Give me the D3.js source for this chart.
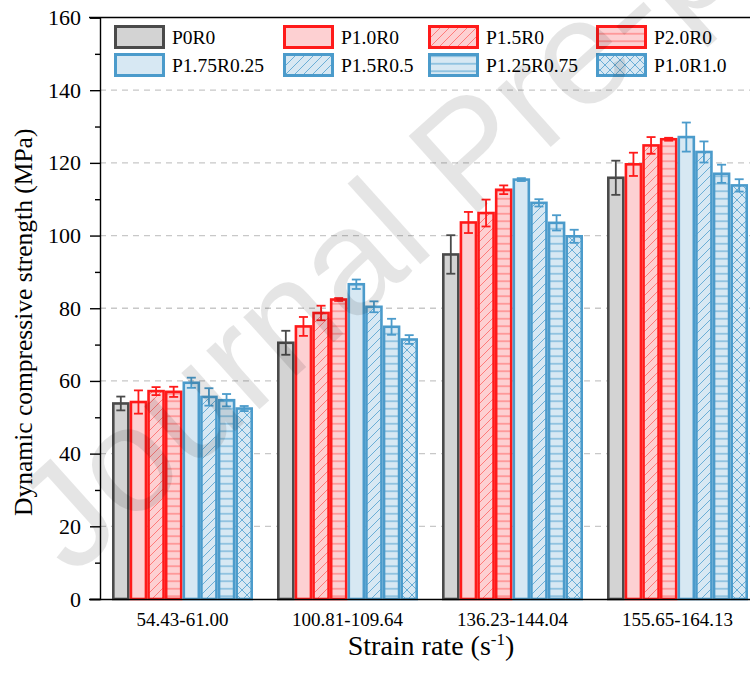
<!DOCTYPE html>
<html>
<head>
<meta charset="utf-8">
<script src="https://cdn.jsdelivr.net/npm/d3@7/dist/d3.min.js"></script>
<style>
  html, body { margin: 0; padding: 0; background: #fff; }
  svg { display: block; }
  svg text.serif { font-family: "Liberation Serif", "Times New Roman", serif !important; }
</style>
</head>
<body>
<svg id="chart" width="750" height="684"></svg>
<script>
// ---------------- DATA ----------------
const categories = ["54.43-61.00", "100.81-109.64", "136.23-144.04", "155.65-164.13"];
const seriesNames = ["P0R0", "P1.0R0", "P1.5R0", "P2.0R0", "P1.75R0.25", "P1.5R0.5", "P1.25R0.75", "P1.0R1.0"];

const meanP0R0      = [53.8, 70.5, 94.8, 115.9];
const meanP10R0     = [54.2, 75.0, 103.6, 119.6];
const meanP15R0     = [57.2, 78.7, 106.2, 124.8];
const meanP20R0     = [57.0, 82.4, 112.6, 126.5];
const meanP175R025  = [59.5, 86.6, 115.4, 127.1];
const meanP15R05    = [55.6, 80.4, 109.0, 123.0];
const meanP125R075  = [54.7, 74.9, 103.5, 117.0];
const meanP10R10    = [52.4, 71.4, 99.8, 113.8];

const errP0R0      = [1.9, 3.3, 5.3, 4.7];
const errP10R0     = [3.2, 2.6, 2.9, 3.2];
const errP15R0     = [1.1, 2.0, 3.7, 2.3];
const errP20R0     = [1.4, 0.4, 1.2, 0.4];
const errP175R025  = [1.4, 1.3, 0.4, 4.0];
const errP15R05    = [2.4, 1.5, 1.0, 2.9];
const errP125R075  = [1.7, 2.2, 2.1, 2.5];
const errP10R10    = [0.7, 1.2, 1.8, 1.7];

const yTicks = [0, 20, 40, 60, 80, 100, 120, 140, 160];

const means = [meanP0R0, meanP10R0, meanP15R0, meanP20R0, meanP175R025, meanP15R05, meanP125R075, meanP10R10];
const errs  = [errP0R0, errP10R0, errP15R0, errP20R0, errP175R025, errP15R05, errP125R075, errP10R10];

// ---------------- STYLE ----------------
const SERIF = '"Liberation Serif", "Times New Roman", serif';
const GRAY_S = "#4a4a4a", GRAY_F = "#d3d3d3";
const RED_S = "#ff1a1a", RED_F = "#fdd0d2", RED_H = "#ff7a7a";
const BLUE_S = "#4b9bcb", BLUE_F = "#d7e8f3", BLUE_H = "#6aaed6";
const styles = [
  {stroke: GRAY_S, fill: GRAY_F, pat: null},
  {stroke: RED_S, fill: RED_F, pat: null},
  {stroke: RED_S, fill: RED_F, pat: "diag", hc: RED_H},
  {stroke: RED_S, fill: RED_F, pat: "horiz", hc: RED_H},
  {stroke: BLUE_S, fill: BLUE_F, pat: null},
  {stroke: BLUE_S, fill: BLUE_F, pat: "diag", hc: BLUE_H},
  {stroke: BLUE_S, fill: BLUE_F, pat: "horiz", hc: BLUE_H},
  {stroke: BLUE_S, fill: BLUE_F, pat: "cross", hc: BLUE_H}
];

const svg = d3.select("#chart");
const defs = svg.append("defs");

styles.forEach((s, i) => {
  if (!s.pat) { s.paint = s.fill; return; }
  const id = "pat" + i;
  let size = s.pat === "horiz" ? 7.5 : (s.pat === "cross" ? 10 : 9);
  const p = defs.append("pattern").attr("id", id)
    .attr("patternUnits", "userSpaceOnUse")
    .attr("width", size).attr("height", size);
  p.append("rect").attr("width", size).attr("height", size).attr("fill", s.fill);
  if (s.pat === "diag") {
    p.append("path").attr("d", `M0,${size} L${size},0 M${-size/2},${size/2} L${size/2},${-size/2} M${size/2},${size*1.5} L${size*1.5},${size/2}`)
      .attr("stroke", s.hc).attr("stroke-width", 1);
  } else if (s.pat === "horiz") {
    p.append("path").attr("d", `M0,${size/2} L${size},${size/2}`)
      .attr("stroke", s.hc).attr("stroke-width", 1.2);
  } else if (s.pat === "cross") {
    p.append("path").attr("d", `M0,0 L${size},${size} M0,${size} L${size},0`)
      .attr("stroke", s.hc).attr("stroke-width", 1);
  }
  s.paint = `url(#${id})`;
});

// ---------------- SCALES ----------------
const plotLeft = 100, plotRight = 760, plotTop = 17.5, plotBottom = 599;
const x0 = d3.scaleBand().domain(categories).range([plotLeft, plotRight])
  .paddingInner(24 / 165).paddingOuter(12 / 165);
const x1 = d3.scaleBand().domain(seriesNames).range([0, x0.bandwidth()]).padding(0);
const y = d3.scaleLinear().domain([0, 160]).range([plotBottom, plotTop]);

// grid
svg.append("g").selectAll("line").data(yTicks.filter(t => t > 0 && t < 160)).join("line")
  .attr("x1", plotLeft).attr("x2", plotRight)
  .attr("y1", d => y(d)).attr("y2", d => y(d))
  .attr("stroke", "#c8c8c8").attr("stroke-width", 1.3)
  .attr("stroke-dasharray", "6,5");

// bars
const groups = svg.append("g").selectAll("g").data(categories).join("g")
  .attr("transform", c => `translate(${x0(c)},0)`);

groups.each(function(c, ci) {
  const g = d3.select(this);
  seriesNames.forEach((s, si) => {
    const st = styles[si];
    const v = means[si][ci], e = errs[si][ci];
    const bx = x1(s), bw = x1.bandwidth();
    g.append("rect")
      .attr("x", bx + 1.3).attr("y", y(v))
      .attr("width", bw - 2.6).attr("height", y(0) - y(v))
      .attr("fill", st.paint).attr("stroke", st.stroke).attr("stroke-width", 2.6);
    const cx = bx + bw / 2;
    g.append("line").attr("x1", cx).attr("x2", cx)
      .attr("y1", y(v + e)).attr("y2", y(v - e))
      .attr("stroke", st.stroke).attr("stroke-width", 1.8);
    [v + e, v - e].forEach(t => {
      g.append("line").attr("x1", cx - 4.5).attr("x2", cx + 4.5)
        .attr("y1", y(t)).attr("y2", y(t))
        .attr("stroke", st.stroke).attr("stroke-width", 1.8);
    });
  });
});

// frame top
svg.append("line").attr("x1", 89).attr("x2", plotRight)
  .attr("y1", plotTop).attr("y2", plotTop).attr("stroke", "#000").attr("stroke-width", 1.4);

// axes
const yAxis = d3.axisLeft(y).tickValues(yTicks).tickSize(10).tickPadding(9).tickFormat(d3.format("d"));
const yg = svg.append("g").attr("transform", `translate(${plotLeft},0)`).call(yAxis);
yg.attr("font-family", null);
yg.select(".domain").attr("stroke-width", 1.4);
yg.selectAll(".tick line").attr("stroke-width", 1.4);
yg.selectAll("text").attr("class", "serif").style("font-family", SERIF)
  .style("font-size", "22px").attr("fill", "#000");

const minorTicks = d3.range(10, 160, 20);
const ymg = svg.append("g").attr("transform", `translate(${plotLeft},0)`)
  .call(d3.axisLeft(y).tickValues(minorTicks).tickSize(5).tickFormat(""));
ymg.select(".domain").remove();
ymg.selectAll(".tick line").attr("stroke-width", 1.4);

const xAxis = d3.axisBottom(x0).tickSize(0).tickPadding(14);
const xg = svg.append("g").attr("transform", `translate(0,${plotBottom})`).call(xAxis);
xg.attr("font-family", null);
xg.select(".domain").attr("d", `M89,0.5H${plotRight}`).attr("stroke-width", 1.4);
xg.selectAll("text").attr("class", "serif").style("font-family", SERIF)
  .style("font-size", "19px").attr("fill", "#000");

// axis titles
svg.append("text").attr("class", "serif")
  .attr("transform", `translate(32,${(plotTop + plotBottom) / 2 + 14}) rotate(-90)`)
  .attr("text-anchor", "middle")
  .style("font-family", SERIF)
  .style("font-size", "25.5px").text("Dynamic compressive strength (MPa)");

const xt = svg.append("text").attr("class", "serif")
  .attr("x", 431).attr("y", 655)
  .attr("text-anchor", "middle")
  .style("font-family", SERIF)
  .style("font-size", "28px");
xt.append("tspan").text("Strain rate (s");
xt.append("tspan").attr("dy", -10).style("font-size", "17px").text("-1");
xt.append("tspan").attr("dy", 10).text(")");

// legend
const legCols = [114, 283, 428, 596];
const legRows = [25, 53];
const leg = svg.append("g");
seriesNames.forEach((s, i) => {
  const col = i % 4, row = Math.floor(i / 4);
  const lx = legCols[col], ly = legRows[row];
  const st = styles[i];
  leg.append("rect").attr("x", lx + 1.5).attr("y", ly + 1.5)
    .attr("width", 48).attr("height", 21)
    .attr("fill", st.paint).attr("stroke", st.stroke).attr("stroke-width", 3);
  leg.append("text").attr("class", "serif").attr("x", lx + 58).attr("y", ly + 19)
    .style("font-family", SERIF)
    .style("font-size", "19.5px").text(s);
});

// watermark
svg.append("text")
  .attr("transform", "translate(72,578) rotate(-42)")
  .style("font-family", '"Liberation Sans", Arial, sans-serif')
  .style("font-size", "150px")
  .attr("fill", "#000").attr("fill-opacity", 0.1)
  .text("Journal Pre-proof");
</script>
</body>
</html>
